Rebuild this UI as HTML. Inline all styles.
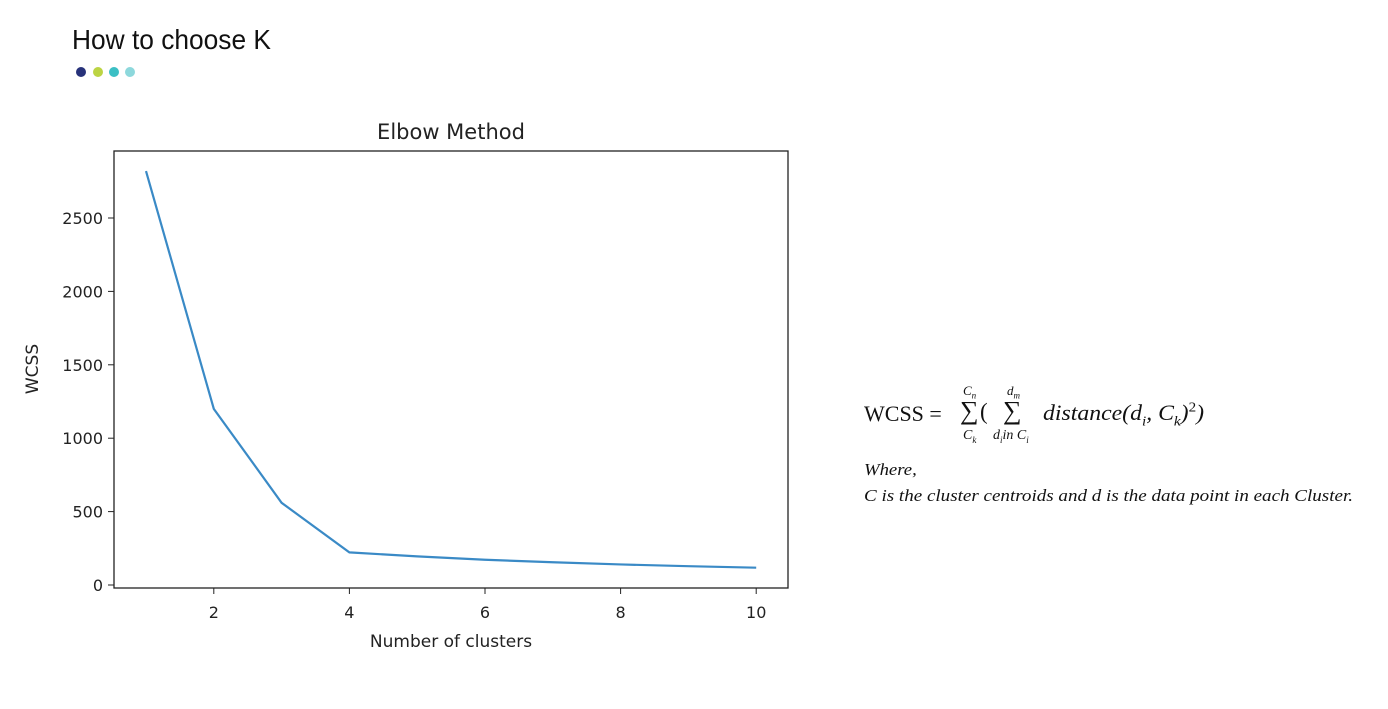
<!DOCTYPE html>
<html><head><meta charset="utf-8"><style>
body{margin:0;background:#fff;width:1388px;height:709px;overflow:hidden;position:relative;font-family:"Liberation Sans",sans-serif}
#title{position:absolute;left:72px;top:24px;font-size:28px;color:#111;transform:scaleX(0.94);transform-origin:left top;white-space:nowrap}
.f{position:absolute;font-family:"Liberation Serif",serif;color:#111;white-space:nowrap}
</style></head><body>
<div id="title">How to choose K</div>
<svg width="1388" height="709" style="position:absolute;left:0;top:0" id="svg">
<circle cx="81" cy="72" r="5" fill="#27327a"/>
<circle cx="98" cy="72" r="5" fill="#bcd443"/>
<circle cx="114" cy="72" r="5" fill="#3bbfc4"/>
<circle cx="130" cy="72" r="5" fill="#8dd8dc"/>
<text x="451" y="139" font-size="21" text-anchor="middle" fill="#222" font-family="DejaVu Sans">Elbow Method</text>
<text x="451" y="647" font-size="17" text-anchor="middle" fill="#222" font-family="DejaVu Sans">Number of clusters</text>
<text x="38" y="369" font-size="17" text-anchor="middle" fill="#222" font-family="DejaVu Sans" transform="rotate(-90 38 369)">WCSS</text>
<g id="g"></g>
<rect x="114" y="151" width="674" height="437" fill="none" stroke="#222" stroke-width="1.3"/>
</svg>
<div class="f" style="left:864px;top:401px;font-size:22px">WCSS =</div>
<div class="f" style="left:963px;top:383px;font-size:13px;font-style:italic">C<sub style="font-size:9px">n</sub></div>
<div class="f" style="left:960px;top:396px;font-size:26px">∑</div>
<div class="f" style="left:980px;top:399px;font-size:23px">(</div>
<div class="f" style="left:1007px;top:383px;font-size:13px;font-style:italic">d<sub style="font-size:9px">m</sub></div>
<div class="f" style="left:1003px;top:396px;font-size:26px">∑</div>
<div class="f" style="left:963px;top:428px;font-size:14px;font-style:italic">C<sub style="font-size:9px">k</sub></div>
<div class="f" style="left:993px;top:428px;font-size:14px;font-style:italic">d<sub style="font-size:9px">i</sub>in C<sub style="font-size:9px">i</sub></div>
<div class="f" style="left:1043px;top:400px;font-size:22px;font-style:italic;transform:scaleX(1.08);transform-origin:left top">distance(d<sub style="font-size:14px">i</sub>, C<sub style="font-size:14px">k</sub>)<sup style="font-size:14px;font-style:normal">2</sup>)</div>
<div class="f" style="left:864px;top:460px;font-size:17px;font-style:italic;transform:scaleX(1.1);transform-origin:left top">Where,</div>
<div class="f" style="left:864px;top:486px;font-size:17px;font-style:italic;transform:scaleX(1.12);transform-origin:left top">C is the cluster centroids and d is the data point in each Cluster.</div>
<script>
const clusters=[1,2,3,4,5,6,7,8,9,10];
const wcss=[2820,1200,560,222,195,172,155,140,128,118];
const xTicks=[2,4,6,8,10];
const yTicks=[0,500,1000,1500,2000,2500];
const X=v=>146+(v-1)*67.8;
const Y=v=>585-v*0.1468;
const g=document.getElementById('g');
const NS='http://www.w3.org/2000/svg';
xTicks.forEach(t=>{
 const l=document.createElementNS(NS,'line');
 l.setAttribute('x1',X(t));l.setAttribute('x2',X(t));l.setAttribute('y1',588);l.setAttribute('y2',594);l.setAttribute('stroke','#222');
 
 
 g.appendChild(l);
 const s=document.createElementNS(NS,'text');
 s.setAttribute('x',X(t));s.setAttribute('y',618);s.setAttribute('text-anchor','middle');s.setAttribute('font-size','16');s.setAttribute('font-family','DejaVu Sans');s.setAttribute('fill','#222');
 s.textContent=t;
 
 
 g.appendChild(s);
});
yTicks.forEach(t=>{
 const l=document.createElementNS(NS,'line');
 l.setAttribute('x1',108);l.setAttribute('x2',114);l.setAttribute('y1',Y(t));l.setAttribute('y2',Y(t));l.setAttribute('stroke','#222');
 
 
 g.appendChild(l);
 const s=document.createElementNS(NS,'text');
 s.setAttribute('x',103);s.setAttribute('y',Y(t)+6);s.setAttribute('text-anchor','end');s.setAttribute('font-size','16');s.setAttribute('font-family','DejaVu Sans');s.setAttribute('fill','#222');
 s.textContent=t;
 
 
 g.appendChild(s);
});
const p=document.createElementNS(NS,'polyline');
p.setAttribute('points',clusters.map((c,i)=>X(c)+','+Y(wcss[i])).join(' '));
p.setAttribute('fill','none');p.setAttribute('stroke','#3a8ac6');p.setAttribute('stroke-width','2.2');


g.appendChild(p);
</script>
</body></html>
